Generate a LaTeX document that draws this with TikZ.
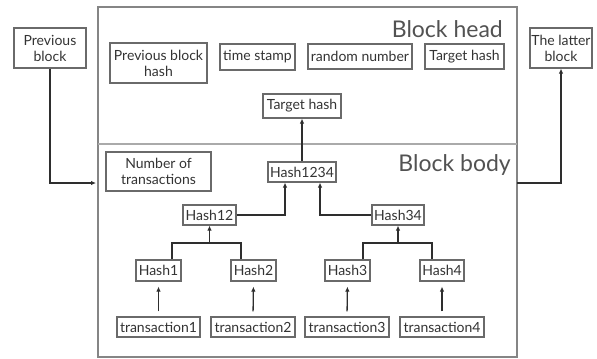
\documentclass[tikz,border=0pt]{standalone}
\usepackage{fontspec}
\setmainfont{Lato}
\usetikzlibrary{arrows.meta}
\definecolor{txt}{HTML}{333333}
\definecolor{boxc}{HTML}{6A6A6A}
\definecolor{framec}{HTML}{858585}
\definecolor{linec}{HTML}{2E2E2E}
\tikzset{
  bx/.style={draw=boxc, line width=1.2bp, text=txt, inner sep=1bp, align=center,
    font=\fontsize{14bp}{16bp}\selectfont},
  conn/.style={draw=linec, line width=1.3bp},
  arr/.style={conn, -{Latex[length=5bp,width=4.5bp]}},
  big/.style={text=txt!85, font=\fontsize{23bp}{25bp}\selectfont, inner sep=0pt}
}
\begin{document}
\begin{tikzpicture}[x=1bp,y=-1bp]
\useasboundingbox (0,0) rectangle (597,358);
% frame
\draw[framec, line width=2bp] (98,7) rectangle (517,357);
\draw[framec!70, line width=1.5bp] (98,144) -- (517,144);
\node[big, anchor=east] (bh) at (503,29) {Block head};
\node[big, anchor=east] (bb) at (511,165) {Block body};
% outside blocks
\node[bx, minimum width=72bp, minimum height=40bp] (prev) at (50,48) {Previous\\block};
\node[bx, minimum width=62bp, minimum height=40bp] (latt) at (561,48) {The latter\\block};
% head
\node[bx, minimum width=97bp, minimum height=40bp] (pbh) at (158.5,63) {Previous block\\hash};
\node[bx, minimum width=75bp, minimum height=26bp] (ts) at (257.5,57) {time stamp};
\node[bx, minimum width=104bp, minimum height=25bp] (rn) at (360,56.5) {random number};
\node[bx, minimum width=79bp, minimum height=25bp] (th1) at (464.5,56.5) {Target hash};
\node[bx, minimum width=78bp, minimum height=24bp] (th2) at (302,106) {Target hash};
% body
\node[bx, minimum width=105bp, minimum height=39bp] (ntx) at (158.5,171.5) {Number of\\transactions};
\node[bx, minimum width=68bp, minimum height=20bp] (h1234) at (302,172) {Hash1234};
\node[bx, minimum width=53bp, minimum height=20bp] (h12) at (209.5,215) {Hash12};
\node[bx, minimum width=52bp, minimum height=20bp] (h34) at (398,215) {Hash34};
\node[bx, minimum width=45bp, minimum height=21bp] (h1) at (158.5,270.5) {Hash1};
\node[bx, minimum width=45bp, minimum height=21bp] (h2) at (253.5,270.5) {Hash2};
\node[bx, minimum width=45bp, minimum height=21bp] (h3) at (347.5,270.5) {Hash3};
\node[bx, minimum width=44bp, minimum height=21bp] (h4) at (442,270.5) {Hash4};
\node[bx, minimum width=83bp, minimum height=20bp] (t1) at (158.5,327) {transaction1};
\node[bx, minimum width=84bp, minimum height=20bp] (t2) at (253,327) {transaction2};
\node[bx, minimum width=84bp, minimum height=20bp] (t3) at (347,327) {transaction3};
\node[bx, minimum width=84bp, minimum height=20bp] (t4) at (442,327) {transaction4};
% coordinates
\coordinate (fl) at (96,183);
\coordinate (fr) at (517,183);
\coordinate (j12) at (209.5,243);
\coordinate (j34) at (398,243);
% connectors
\draw[arr] (prev.south) |- (fl);
\draw[arr] (fr) -| (latt.south);
\draw[arr] (h1234.north) -- (th2.south);
\draw[arr] (h12.east) -| ([xshift=-17bp]h1234.south);
\draw[arr] (h34.west) -| ([xshift=18bp]h1234.south);
\draw[conn] ([xshift=13.5bp]h1.north) |- (j12) -| ([xshift=-12.5bp]h2.north);
\draw[arr] (j12) -- (h12.south);
\draw[conn] ([xshift=15.5bp]h3.north) |- (j34) -| ([xshift=-10bp]h4.north);
\draw[arr] (j34) -- (h34.south);
\foreach \i in {1,2,3,4}{
  \draw[arr, shorten <=5bp, shorten >=5bp] (t\i.north) -- (h\i.south);
}
\end{tikzpicture}
\end{document}
